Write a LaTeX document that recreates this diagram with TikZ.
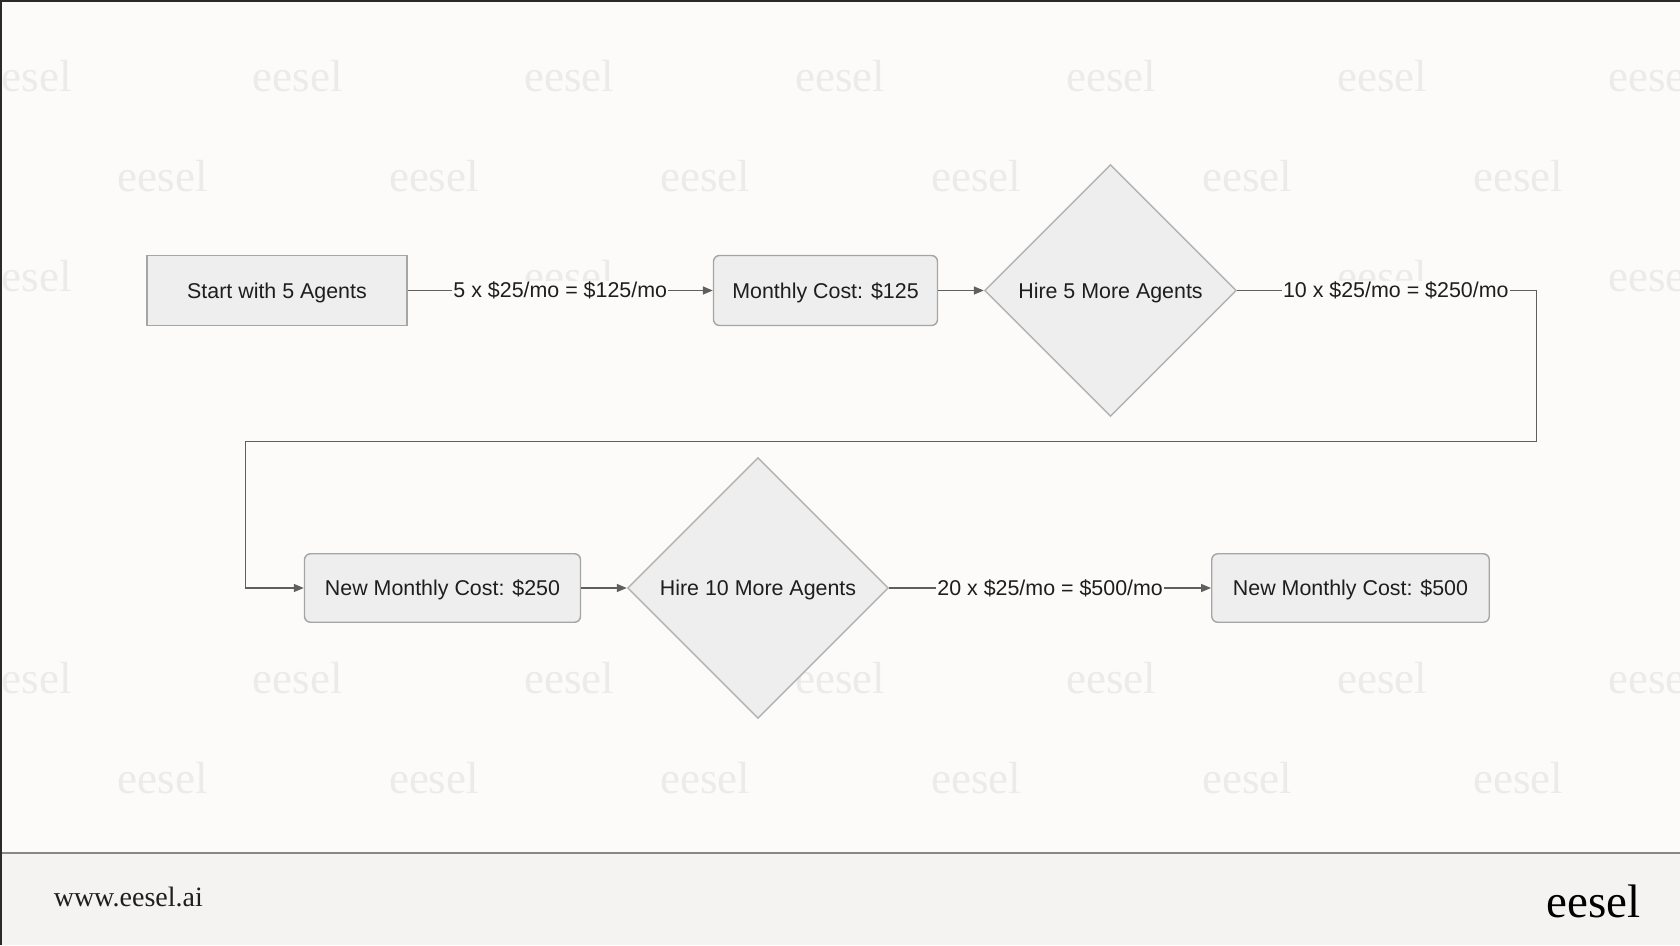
\documentclass[tikz,border=0pt]{standalone}
\usepackage{fontspec}
\setmainfont{Liberation Sans}
\newfontfamily\wmfont{Liberation Serif}
\usetikzlibrary{shapes.geometric,arrows.meta}
\definecolor{bg}{HTML}{FCFBFA}
\definecolor{footbg}{HTML}{F4F3F1}
\definecolor{footline}{HTML}{888888}
\definecolor{nodefill}{HTML}{EEEEEE}
\definecolor{nodeedge}{HTML}{A5A5A5}
\definecolor{diaedge}{HTML}{B2B2B2}
\definecolor{edgecol}{HTML}{5F5F5F}
\definecolor{wmcol}{HTML}{ECEBE9}
\definecolor{txt}{HTML}{1E1E1E}
\definecolor{frame}{HTML}{2A2A2A}
\begin{document}
\begin{tikzpicture}[x=1pt,y=-1pt,
  nodefont/.style={font=\fontsize{21.4}{24}\selectfont},
  box/.style={draw=nodeedge, fill=nodefill, line width=1.4pt, minimum height=70pt, inner sep=0pt, text=txt, nodefont, text height=19.6pt, text depth=4.5pt},
  rbox/.style={box, rounded corners=6pt},
  dia/.style={diamond, aspect=1, draw=diaedge, fill=nodefill, line width=1.4pt, inner sep=0pt, text=txt, nodefont, text height=19.6pt, text depth=4.5pt},
  conn/.style={draw=edgecol, line width=1.4pt, -{Triangle[length=10pt,width=8pt]}},
  lbl/.style={fill=bg, inner sep=1pt, text=txt, nodefont},
  wm/.style={text=wmcol, font=\wmfont\fontsize{45}{50}\selectfont, inner sep=0pt, anchor=base},
]
\useasboundingbox (0,0) rectangle (1680,945);
\clip (0,0) rectangle (1680,945);
\fill[bg] (0,0) rectangle (1680,945);

% watermarks
\foreach \k in {0,6} {
  \foreach \j in {0,...,6} {
    \node[wm] (wa\k\j) at ({26.8+\j*271.1},{91+\k*100.4}) {eesel};
  }
}
\foreach \j in {0,2,5,6} {
  \node[wm] (wc\j) at ({26.8+\j*271.1},{91+2*100.4}) {eesel};
}
\foreach \k in {1,7} {
  \foreach \j in {0,...,5} {
    \node[wm] (wb\k\j) at ({162.9+\j*271.1},{91+\k*100.4}) {eesel};
  }
}

% nodes
\node[box, minimum width=260pt] (b1) at (277,290.5) {Start with 5 Agents};
\node[rbox, minimum width=224pt] (b2) at (825.5,290.5) {Monthly Cost: \$125};
\node[dia, minimum size=252pt] (d1) at (1110.5,290.5) {Hire 5 More Agents};
\node[rbox, minimum width=276pt, minimum height=68.5pt] (b3) at (442.5,588) {New Monthly Cost: \$250};
\node[dia, minimum size=261pt] (d2) at (758,588) {Hire 10 More Agents};
\node[rbox, minimum width=277.5pt, minimum height=68.5pt] (b4) at (1350.5,588) {New Monthly Cost: \$500};

\coordinate (c1) at (1536.4,290.5);
\coordinate (c2) at (1536.4,441.4);
\coordinate (c3) at (245.4,441.4);
\coordinate (c4) at (245.4,588);

% connectors
\draw[conn] (b1) -- node[lbl] (l1) {5 x \$25/mo = \$125/mo} (b2);
\draw[conn] (b2) -- (d1);
\draw[conn] (d1.east) -- node[lbl, pos=0.53] (l2) {10 x \$25/mo = \$250/mo} (c1) -- (c2) -- (c3) -- (c4) -- (b3.west);
\draw[conn] (b3) -- (d2);
\draw[conn] (d2) -- node[lbl] (l3) {20 x \$25/mo = \$500/mo} (b4);

% footer
\fill[footbg] (0,853) rectangle (1680,945);
\draw[draw=footline, line width=1.5pt] (0,853) -- (1680,853);
\node[anchor=base west, inner sep=0pt, text=txt, font=\wmfont\fontsize{28}{32}\selectfont] (url) at (53.6,906) {www.eesel.ai};
\node[anchor=base east, inner sep=0pt, text=black, font=\wmfont\fontsize{47}{52}\selectfont] (logo) at (1641,917) {eesel};

% frame
\draw[frame, line width=2pt] (1,945) -- (1,1) -- (1680,1);
\end{tikzpicture}
\end{document}
